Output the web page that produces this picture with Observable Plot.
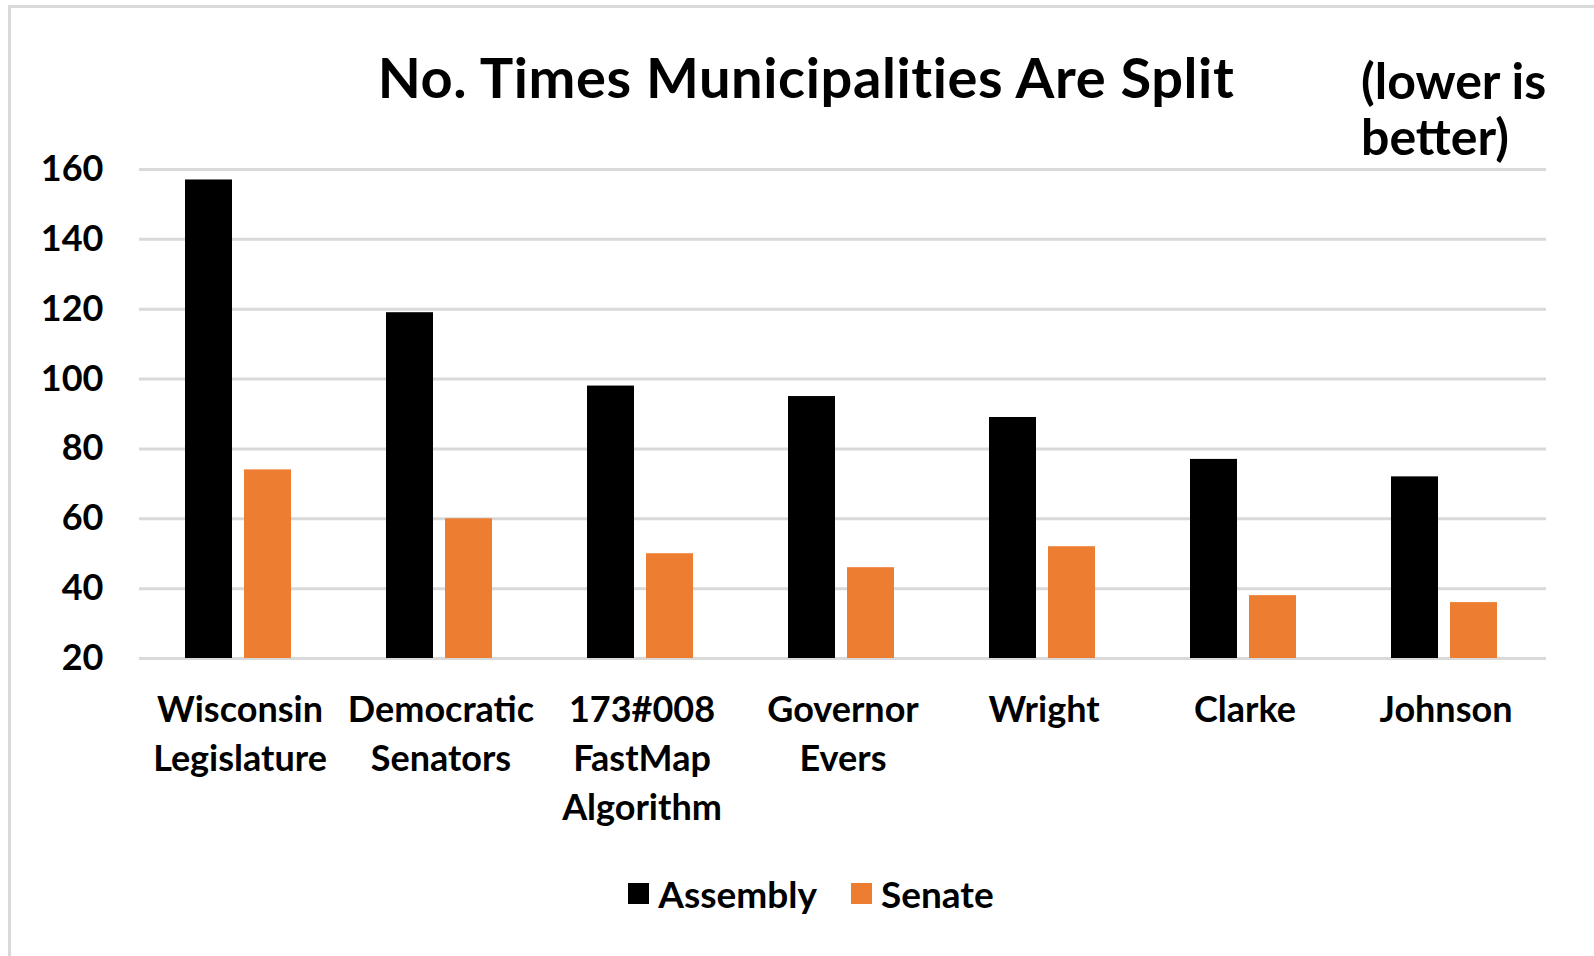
<!DOCTYPE html>
<html>
<head>
<meta charset="utf-8">
<script src="https://cdn.jsdelivr.net/npm/d3@7"></script>
<script src="https://cdn.jsdelivr.net/npm/@observablehq/plot@0.6"></script>
<style>
  html, body { margin: 0; padding: 0; background: #fff; overflow: hidden; }
  body { width: 1594px; height: 956px; position: relative; font-family: Lato, "Open Sans", sans-serif; font-weight: 700; color: #000; }
  #frame { position: absolute; left: 8px; top: 5px; width: 1700px; height: 1100px; border-left: 3px solid #d9d9d9; border-top: 3px solid #d9d9d9; }
  #title { position: absolute; left: 306px; width: 1000px; top: 49px; text-align: center; font-size: 56px; line-height: 56px; letter-spacing: 0.6px; white-space: nowrap; }
  .note { position: absolute; left: 1361px; font-size: 50px; line-height: 52px; height: 52px; white-space: nowrap; }
  #chart { position: absolute; left: 0; top: 0; }
  #legend { position: absolute; left: 14px; width: 1594px; top: 873px; height: 40px; display: flex; justify-content: center; align-items: center; font-size: 37px; }
  .item { display: flex; align-items: center; margin: 0 17px; }
  .sw { width: 21px; height: 21px; margin-right: 9px; }
</style>
</head>
<body>
<div id="frame"></div>
<div id="chart"></div>
<div id="title">No. Times Municipalities Are Split</div>
<div class="note" style="top:54px">(lower is</div>
<div class="note" style="top:110px">better)</div>
<div id="legend"></div>
<script>
// ---- data ----
const categories = ["Wisconsin Legislature", "Democratic Senators", "173#008 FastMap Algorithm", "Governor Evers", "Wright", "Clarke", "Johnson"];
const tickLabels = ["Wisconsin\nLegislature", "Democratic\nSenators", "173#008\nFastMap\nAlgorithm", "Governor\nEvers", "Wright", "Clarke", "Johnson"];
const series = ["Assembly", "Senate"];
const assembly = [157, 119, 98, 95, 89, 77, 72];
const senate = [74, 60, 50, 46, 52, 38, 36];
const colors = ["#000000", "#ED7D31"];
const yTicks = [20, 40, 60, 80, 100, 120, 140, 160];
const yDomain = [20, 160];

const data = [];
categories.forEach((c, i) => {
  data.push({category: c, series: series[0], value: assembly[i]});
  data.push({category: c, series: series[1], value: senate[i]});
});

const chart = Plot.plot({
  width: 1594,
  height: 860,
  marginLeft: 136,
  marginRight: 46,
  marginTop: 169,
  marginBottom: 202,
  style: {fontFamily: "Lato, 'Open Sans', sans-serif", fontWeight: 700, fontSize: "36px", color: "#000", background: "transparent", overflow: "visible"},
  fx: {domain: categories, paddingInner: 0, paddingOuter: 0, axis: null, label: null},
  x: {domain: series, paddingInner: 0.21, paddingOuter: 0.8, axis: null},
  y: {domain: yDomain, axis: null},
  color: {domain: series, range: colors},
  marks: [
    Plot.gridY(yTicks, {stroke: "#d9d9d9", strokeOpacity: 1, strokeWidth: 3}),
    Plot.barY(data, {fx: "category", x: "series", y1: yDomain[0], y2: "value", fill: "series", dx: -2}),
    Plot.axisY(yTicks, {tickSize: 0, tickPadding: 36, fontSize: 36, fontWeight: 700, label: null, fill: "#000"}),
    Plot.axisFx({
      anchor: "bottom",
      tickSize: 0, tickPadding: 29, fontSize: 36, fontWeight: 700, label: null, fill: "#000",
      lineHeight: 1.36,
      tickFormat: d => tickLabels[categories.indexOf(d)]
    })
  ]
});
document.getElementById("chart").appendChild(chart);

const legend = document.getElementById("legend");
series.forEach((s, i) => {
  const item = document.createElement("div");
  item.className = "item";
  const sw = document.createElement("div");
  sw.className = "sw";
  sw.style.background = colors[i];
  const t = document.createElement("span");
  t.textContent = s;
  item.appendChild(sw);
  item.appendChild(t);
  legend.appendChild(item);
});
</script>
</body>
</html>
